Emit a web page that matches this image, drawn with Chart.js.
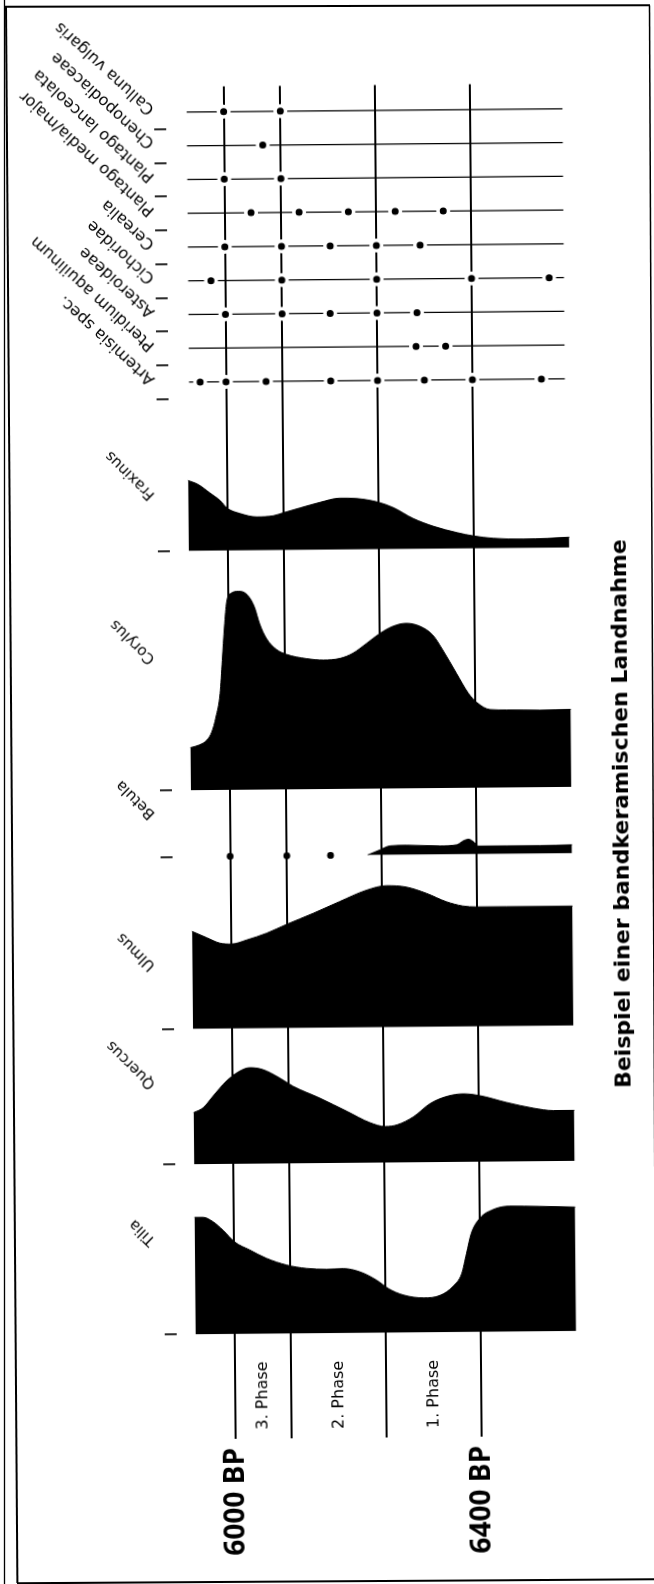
<!DOCTYPE html>
<html>
<head>
<meta charset="utf-8">
<script src="https://cdn.jsdelivr.net/npm/chart.js@4.4.1/dist/chart.umd.min.js"></script>
<style>
  html, body { margin: 0; padding: 0; background: #fff; overflow: hidden; }
  #sheet { position: absolute; left: 0; top: 0; width: 654px; height: 1584px;
           transform: rotate(-0.5deg); transform-origin: 327px 792px; }
  #sheet canvas { display: block; }
  #frame { position: absolute; left: 0; top: 0; pointer-events: none; }
</style>
</head>
<body>
<div id="sheet"><canvas id="diagram" width="654" height="1584"></canvas></div>
<svg id="frame" width="654" height="1584" xmlns="http://www.w3.org/2000/svg">
  <g stroke="#000" fill="none">
    <line x1="4.5" y1="0" x2="4.5" y2="1584" stroke-width="1.3"/>
    <line x1="6" y1="6" x2="17.4" y2="1583" stroke-width="2"/>
    <line x1="5" y1="6.7" x2="650" y2="5.3" stroke-width="2"/>
    <line x1="649.5" y1="5.5" x2="656.6" y2="1582" stroke-width="1.5"/>
    <line x1="17" y1="1583.3" x2="654" y2="1579.3" stroke-width="2"/>
  </g>
</svg>
<script>
// ---- time axis (years BP) ----
const timeTicks = [6000, 6092, 6246, 6400];
const timeTickLabels = ['6000 BP', '', '', '6400 BP'];
const phaseNames = ['3. Phase', '2. Phase', '1. Phase'];
const timeMin = 5906.5;
const timeMax = 6568.8;

// ---- herb and indicator pollen: single finds (years BP) ----
const herbNames = ['Calluna vulgaris', 'Chenopodiaceae', 'Plantago lanceolata',
  'Plantago media/major', 'Cerealia', 'Cichoridae', 'Asteroideae',
  'Pteridium aquilinum', 'Artemisia spec.'];
const herbRecordSpan = [5940, 6550];
const callunaFinds = [6000, 6092];
const chenopodiaceaeFinds = [6063];
const plantagoLanceolataFinds = [6000, 6092];
const plantagoMediaFinds = [6043, 6121, 6201, 6277, 6355];
const cerealiaFinds = [6000, 6092, 6171, 6246, 6317];
const cichoridaeFinds = [5977, 6092, 6246, 6400, 6526];
const asteroideaeFinds = [6000, 6092, 6170, 6246, 6311];
const pteridiumFinds = [6309, 6357];
const artemisiaFinds = [5958, 6000, 6065, 6170, 6246, 6322, 6400, 6512];
const herbFinds = [callunaFinds, chenopodiaceaeFinds, plantagoLanceolataFinds,
  plantagoMediaFinds, cerealiaFinds, cichoridaeFinds, asteroideaeFinds,
  pteridiumFinds, artemisiaFinds];

// ---- tree pollen curves (percent) ----
const fraxinusAge = [5937, 5953, 5972, 5989, 6000, 6021, 6048, 6075, 6092, 6118, 6151, 6183,
  6210, 6246, 6270, 6302, 6335, 6373, 6400, 6432, 6481, 6519, 6555];
const fraxinusPct = [14.1, 13.3, 11.6, 10.0, 8.5, 7.4, 6.7, 6.9, 7.5, 8.4, 9.5, 10.3,
  10.2, 9.4, 8.3, 6.1, 4.5, 3.2, 2.5, 2.0, 1.8, 1.9, 2.1];

const corylusAge = [5937, 5951, 5964, 5972, 5979, 5986, 5990, 5994, 5998, 6005, 6018, 6032,
  6043, 6051, 6062, 6078, 6094, 6127, 6154, 6181, 6202, 6224, 6246, 6267, 6289, 6311,
  6332, 6348, 6370, 6389, 6403, 6424, 6451, 6505, 6555];
const corylusPct = [8.5, 9.0, 10.0, 11.6, 14.6, 19.3, 25.9, 32.6, 37.6, 39.3, 39.7, 38.9,
  36.5, 33.2, 30.2, 28.0, 27.0, 26.1, 25.8, 26.1, 27.1, 29.0, 31.0, 32.4, 33.0, 32.4,
  30.6, 27.6, 22.9, 18.9, 17.0, 15.6, 15.5, 15.4, 15.5];

const betulaAge = [6223, 6243, 6260, 6287, 6341, 6368, 6379, 6387, 6395, 6403, 6449, 6503, 6555];
const betulaPct = [0, 1.0, 1.8, 1.9, 1.7, 1.9, 2.7, 3.0, 2.5, 1.6, 1.6, 1.6, 1.7];
const betulaSingleFinds = [6000, 6092, 6163];

const ulmusAge = [5937, 5961, 5982, 6001, 6026, 6058, 6090, 6134, 6177, 6220, 6253, 6285,
  6318, 6350, 6377, 6399, 6448, 6555];
const ulmusPct = [19.5, 18.2, 17.1, 16.9, 17.7, 19.0, 20.7, 22.9, 25.2, 27.4, 28.3, 28.0,
  26.7, 25.0, 24.1, 23.9, 23.9, 23.9];

const quercusAge = [5937, 5953, 5969, 5991, 6012, 6029, 6050, 6077, 6099, 6142, 6186, 6223,
  6248, 6267, 6294, 6321, 6348, 6375, 6402, 6445, 6489, 6521, 6555];
const quercusPct = [10.3, 11.3, 13.6, 16.6, 18.5, 19.2, 18.8, 17.1, 15.4, 13.0, 10.3, 8.0,
  7.2, 7.5, 9.1, 11.7, 13.1, 13.6, 13.2, 11.8, 10.6, 10.1, 10.1];

const tiliaAge = [5937, 5951, 5967, 5983, 6002, 6026, 6053, 6086, 6118, 6151, 6178, 6205,
  6232, 6251, 6275, 6308, 6335, 6356, 6370, 6378, 6386, 6400, 6421, 6448, 6497, 6555];
const tiliaPct = [23.4, 23.4, 22.5, 20.8, 18.4, 16.8, 15.1, 13.7, 13.0, 12.8, 12.9, 12.2,
  10.5, 8.8, 7.5, 6.9, 7.4, 9.2, 11.7, 15.7, 19.7, 22.7, 24.4, 25.1, 25.0, 24.8];

// ---- panel layout: every panel uses the same percent-per-pixel scale ----
const herbPanelSpan = 69.22;   // ten record rows
const phasePanelSpan = 20.96;  // strip for the phase names
const treePanels = [
  { id: 'yFraxinus', name: 'Fraxinus', age: fraxinusAge, pct: fraxinusPct, span: 23.64, lift: 54 },
  { id: 'yCorylus',  name: 'Corylus',  age: corylusAge,  pct: corylusPct,  span: 47.84, lift: 129 },
  { id: 'yBetula',   name: 'Betula',   age: betulaAge,   pct: betulaPct,   span: 13.28, lift: 40.5 },
  { id: 'yUlmus',    name: 'Ulmus',    age: ulmusAge,    pct: ulmusPct,    span: 34.46, lift: 61 },
  { id: 'yQuercus',  name: 'Quercus',  age: quercusAge,  pct: quercusPct,  span: 27.06, lift: 78 },
  { id: 'yTilia',    name: 'Tilia',    age: tiliaAge,    pct: tiliaPct,    span: 34.04, lift: 91.6 }
];

const INK = '#000';
const NAME_ANGLE_HERB = -137 * Math.PI / 180;
const NAME_ANGLE_TREE = -135 * Math.PI / 180;
const nameColumnX = y => 159.1 - 0.00778 * y;

function zip(xs, ys) { return xs.map((x, i) => ({ x, y: ys[i] })); }

function stackedAxis(extra) {
  return Object.assign({
    type: 'linear', position: 'left', stack: 'taxa', offset: false,
    border: { display: false },
    grid: { drawOnChartArea: false, drawTicks: true, tickLength: 12, color: INK, lineWidth: 1.7 },
    ticks: { display: false },
    afterFit: s => { s.width = 12; }
  }, extra);
}

const scales = {
  x: {
    type: 'linear', position: 'bottom', min: timeMin, max: timeMax, z: 1,
    border: { display: false },
    grid: { color: INK, lineWidth: 2, drawTicks: false, tickLength: 0 },
    afterBuildTicks: s => { s.ticks = timeTicks.map(v => ({ value: v })); },
    ticks: {
      autoSkip: false, minRotation: 90, maxRotation: 90, padding: 9, color: INK,
      font: { family: "'Open Sans'", size: 28, weight: 'bold' },
      callback: (v, i) => timeTickLabels[i]
    },
    afterFit: s => { s.height = 146; }
  },
  yHerbs: stackedAxis({
    min: 0.25, max: 10.5, reverse: true, stackWeight: herbPanelSpan, weight: 8,
    afterBuildTicks: s => { s.ticks = herbNames.map((n, i) => ({ value: i + 1.5 })); }
  })
};
treePanels.forEach((p, i) => {
  scales[p.id] = stackedAxis({
    min: 0, max: p.span, stackWeight: p.span, weight: 7 - i,
    afterBuildTicks: s => { s.ticks = [{ value: 0 }]; }
  });
});
scales.yPhases = stackedAxis({
  min: 0, max: phasePanelSpan, stackWeight: phasePanelSpan, weight: 1,
  afterBuildTicks: s => { s.ticks = []; }
});

const datasets = [];
treePanels.forEach(p => {
  datasets.push({
    label: p.name, yAxisID: p.id, data: zip(p.age, p.pct),
    fill: 'origin', backgroundColor: INK, borderColor: INK, borderWidth: 1,
    pointRadius: 0, cubicInterpolationMode: 'monotone'
  });
});
datasets.push({
  label: 'Betula single finds', yAxisID: 'yBetula', showLine: false, clip: false,
  data: betulaSingleFinds.map(a => ({ x: a, y: 0 })),
  pointRadius: 3.4, pointBackgroundColor: INK, pointBorderColor: INK, pointBorderWidth: 0
});
herbFinds.forEach((finds, i) => {
  const row = i + 1;
  const pts = [{ x: herbRecordSpan[0], y: row }]
    .concat(finds.map(a => ({ x: a, y: row })))
    .concat([{ x: herbRecordSpan[1], y: row }]);
  datasets.push({
    label: herbNames[i], yAxisID: 'yHerbs', data: pts,
    borderColor: INK, borderWidth: 1.2, tension: 0, fill: false,
    pointRadius: ctx => (ctx.dataIndex === 0 || ctx.dataIndex === pts.length - 1) ? 0 : 5.25,
    pointBackgroundColor: INK, pointBorderColor: '#fff', pointBorderWidth: 3.5
  });
});

function rotatedText(ctx, text, x, y, angle) {
  ctx.save();
  ctx.translate(x, y);
  ctx.rotate(angle);
  ctx.fillText(text, 0, 0);
  ctx.restore();
}

const namesPlugin = {
  id: 'taxonNames',
  afterDraw(chart) {
    const ctx = chart.ctx;
    const sc = chart.scales;
    const area = chart.chartArea;
    ctx.save();
    ctx.fillStyle = INK;
    ctx.textAlign = 'left';
    ctx.textBaseline = 'middle';
    ctx.font = "16px 'DejaVu Sans'";
    herbNames.forEach((name, i) => {
      const y = sc.yHerbs.getPixelForValue(i + 1) - 0.7;
      rotatedText(ctx, name, nameColumnX(y), y, NAME_ANGLE_HERB);
    });
    ctx.font = "15px 'DejaVu Sans'";
    treePanels.forEach(p => {
      const y = sc[p.id].getPixelForValue(0) - p.lift;
      rotatedText(ctx, p.name, nameColumnX(y), y, NAME_ANGLE_TREE);
    });
    ctx.font = "16px 'DejaVu Sans'";
    phaseNames.forEach((name, i) => {
      const x = (sc.x.getPixelForValue(timeTicks[i]) + sc.x.getPixelForValue(timeTicks[i + 1])) / 2;
      rotatedText(ctx, name, x, area.bottom - 9, -Math.PI / 2);
    });
    ctx.textBaseline = 'alphabetic';
    ctx.font = "bold 22px 'DejaVu Sans'";
    rotatedText(ctx, 'Beispiel einer bandkeramischen Landnahme', area.right + 48, area.bottom - 347.4, -Math.PI / 2);
    ctx.restore();
  }
};

new Chart(document.getElementById('diagram'), {
  type: 'line',
  data: { datasets },
  options: {
    responsive: false,
    animation: false,
    devicePixelRatio: 1,
    events: [],
    parsing: true,
    layout: { padding: { left: 160, right: 74, top: 85.5, bottom: 0 } },
    plugins: { legend: { display: false }, tooltip: { enabled: false }, title: { display: false } },
    scales
  },
  plugins: [namesPlugin]
});
</script>
</body>
</html>
